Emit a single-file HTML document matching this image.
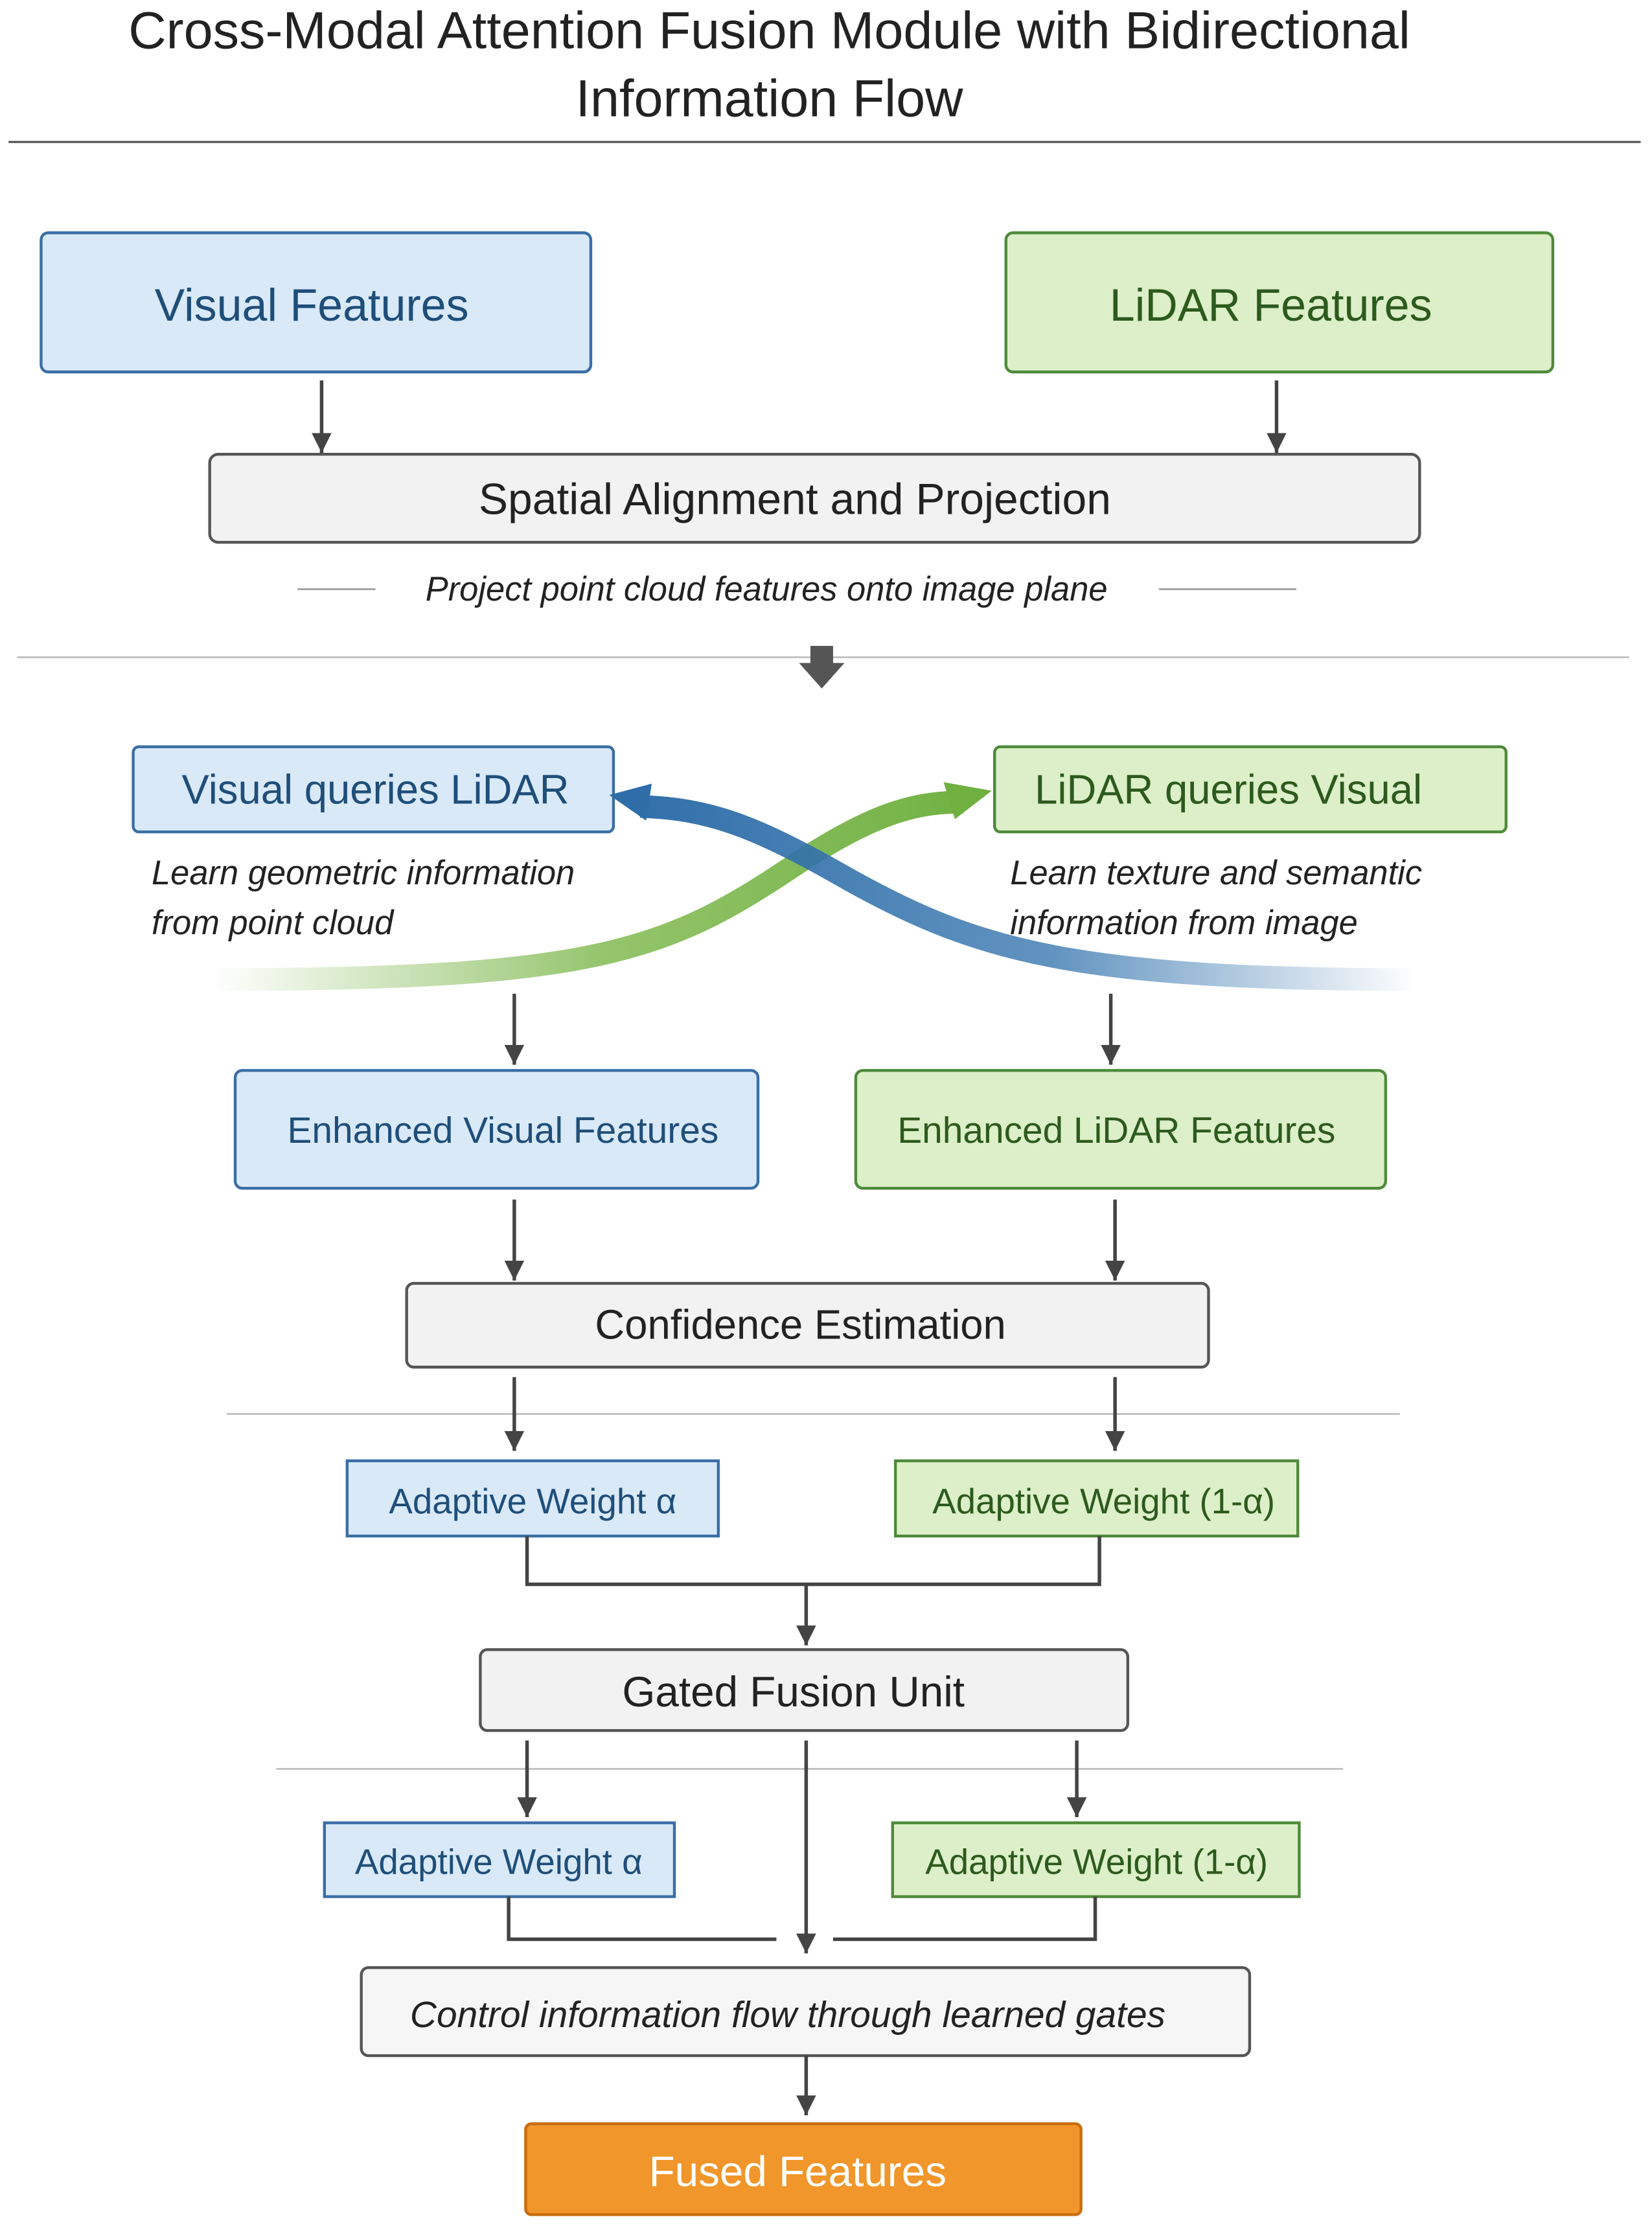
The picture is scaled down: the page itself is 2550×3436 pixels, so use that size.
<!DOCTYPE html>
<html><head><meta charset="utf-8"><style>html,body{margin:0;padding:0;background:#fff}svg{display:block}</style></head>
<body>
<svg width="2550" height="3436" viewBox="0 0 1166 1568" preserveAspectRatio="none" xmlns="http://www.w3.org/2000/svg" font-family="Liberation Sans, sans-serif">
<defs>
<marker id="ah" markerWidth="14" markerHeight="14" refX="12" refY="6" orient="auto" markerUnits="userSpaceOnUse" viewBox="0 0 12 12"><path d="M0,0 L12,6 L0,12 Z" fill="#444"/></marker>
<linearGradient id="gg" x1="150" y1="0" x2="700" y2="0" gradientUnits="userSpaceOnUse"><stop offset="0" stop-color="#7ab648" stop-opacity="0"/><stop offset="0.5" stop-color="#7ab648" stop-opacity="0.8"/><stop offset="1" stop-color="#6fb040"/></linearGradient>
<linearGradient id="bg" x1="1000" y1="0" x2="430" y2="0" gradientUnits="userSpaceOnUse"><stop offset="0" stop-color="#3a78b0" stop-opacity="0"/><stop offset="0.45" stop-color="#3a78b0" stop-opacity="0.8"/><stop offset="1" stop-color="#2e6da8"/></linearGradient>
</defs>
<rect width="1166" height="1568" fill="#fff"/>
<g fill="#222" font-size="37" text-anchor="middle"><text x="543" y="34">Cross-Modal Attention Fusion Module with Bidirectional</text><text x="543" y="82">Information Flow</text></g>
<line x1="6" y1="100" x2="1158" y2="100" stroke="#555" stroke-width="1.5"/>
<g stroke-width="2">
<rect x="29" y="164" width="388" height="98" rx="5" fill="#d9e9f8" stroke="#3a6ea5"/>
<rect x="710" y="164" width="386" height="98" rx="5" fill="#dcefc8" stroke="#4e8a3a"/>
<rect x="148" y="320" width="854" height="62" rx="6" fill="#f2f2f2" stroke="#555"/>
<rect x="94" y="526" width="339" height="60" rx="4" fill="#d9e9f8" stroke="#3a6ea5"/>
<rect x="702" y="526" width="361" height="60" rx="4" fill="#dcefc8" stroke="#4e8a3a"/>
<rect x="166" y="754" width="369" height="83" rx="5" fill="#d9e9f8" stroke="#3a6ea5"/>
<rect x="604" y="754" width="374" height="83" rx="5" fill="#dcefc8" stroke="#4e8a3a"/>
<rect x="287" y="904" width="566" height="59" rx="5" fill="#f2f2f2" stroke="#555"/>
<rect x="245" y="1029" width="262" height="53" fill="#d9e9f8" stroke="#3a6ea5"/>
<rect x="632" y="1029" width="284" height="53" fill="#dcefc8" stroke="#4e8a3a"/>
<rect x="339" y="1162" width="457" height="57" rx="5" fill="#f2f2f2" stroke="#555"/>
<rect x="229" y="1284" width="247" height="52" fill="#d9e9f8" stroke="#3a6ea5"/>
<rect x="630" y="1284" width="287" height="52" fill="#dcefc8" stroke="#4e8a3a"/>
<rect x="255" y="1386" width="627" height="62" rx="5" fill="#f6f6f6" stroke="#555"/>
<rect x="371" y="1496" width="392" height="64" rx="4" fill="#f0962a" stroke="#c96d10"/>
</g>
<g font-size="32" text-anchor="middle">
<text x="220" y="226" fill="#1f4e79">Visual Features</text>
<text x="897" y="226" fill="#2d5a1e">LiDAR Features</text>
<text x="561" y="362" fill="#222" font-size="31">Spatial Alignment and Projection</text>
<text x="265" y="566" fill="#1f4e79" font-size="29">Visual queries LiDAR</text>
<text x="867" y="566" fill="#2d5a1e" font-size="29">LiDAR queries Visual</text>
<text x="355" y="805" fill="#1f4e79" font-size="26">Enhanced Visual Features</text>
<text x="788" y="805" fill="#2d5a1e" font-size="26">Enhanced LiDAR Features</text>
<text x="565" y="943" fill="#222" font-size="29">Confidence Estimation</text>
<text x="376" y="1066" fill="#1f4e79" font-size="25">Adaptive Weight α</text>
<text x="779" y="1066" fill="#2d5a1e" font-size="25">Adaptive Weight (1-α)</text>
<text x="560" y="1202" fill="#222" font-size="30">Gated Fusion Unit</text>
<text x="352" y="1320" fill="#1f4e79" font-size="25">Adaptive Weight α</text>
<text x="774" y="1320" fill="#2d5a1e" font-size="25">Adaptive Weight (1-α)</text>
<text x="556" y="1428" fill="#222" font-size="26" font-style="italic">Control information flow through learned gates</text>
<text x="563" y="1540" fill="#fff" font-size="30">Fused Features</text>
</g>
<g font-size="24" font-style="italic" fill="#222">
<text x="541" y="423" text-anchor="middle">Project point cloud features onto image plane</text>
<text x="107" y="623">Learn geometric information</text>
<text x="107" y="658">from point cloud</text>
<text x="713" y="623">Learn texture and semantic</text>
<text x="713" y="658">information from image</text>
</g>
<g stroke="#999" stroke-width="1.2">
<line x1="210" y1="415" x2="265" y2="415"/><line x1="818" y1="415" x2="915" y2="415"/>
<line x1="12" y1="463" x2="1150" y2="463" stroke="#bbb"/>
<line x1="160" y1="996" x2="988" y2="996" stroke="#bbb"/>
<line x1="195" y1="1246" x2="948" y2="1246" stroke="#bbb"/>
</g>
<path d="M572,455 h16 v12 h8 l-16,18 l-16,-18 h8 z" fill="#555"/>
<path d="M150,690 C420,690 470,670 560,610 C620,570 650,565 680,565" fill="none" stroke="url(#gg)" stroke-width="16"/>
<path d="M700,557 l-34,-6 l8,26 z" fill="#6fb040"/>
<path d="M1000,690 C760,690 690,670 600,620 C530,580 500,570 452,568" fill="none" stroke="url(#bg)" stroke-width="16"/>
<path d="M430,560 l30,-8 l-4,26 z" fill="#2e6da8"/>
<g stroke="#444" stroke-width="2.5" fill="none" marker-end="url(#ah)">
<line x1="227" y1="268" x2="227" y2="319"/><line x1="901" y1="268" x2="901" y2="319"/>
<line x1="363" y1="700" x2="363" y2="750"/><line x1="784" y1="700" x2="784" y2="750"/>
<line x1="363" y1="845" x2="363" y2="902"/><line x1="787" y1="845" x2="787" y2="902"/>
<line x1="363" y1="970" x2="363" y2="1022"/><line x1="787" y1="970" x2="787" y2="1022"/>
<line x1="569" y1="1116" x2="569" y2="1159"/>
<line x1="372" y1="1226" x2="372" y2="1280"/><line x1="760" y1="1226" x2="760" y2="1280"/>
<line x1="569" y1="1226" x2="569" y2="1376"/>
<line x1="569" y1="1448" x2="569" y2="1490"/>
</g>
<g stroke="#444" stroke-width="2.5" fill="none">
<path d="M372,1082 V1116 H776 V1082"/>
<path d="M359,1336 V1366 H548"/><path d="M588,1366 H773 V1336"/>
</g>
</svg>
</body></html>
